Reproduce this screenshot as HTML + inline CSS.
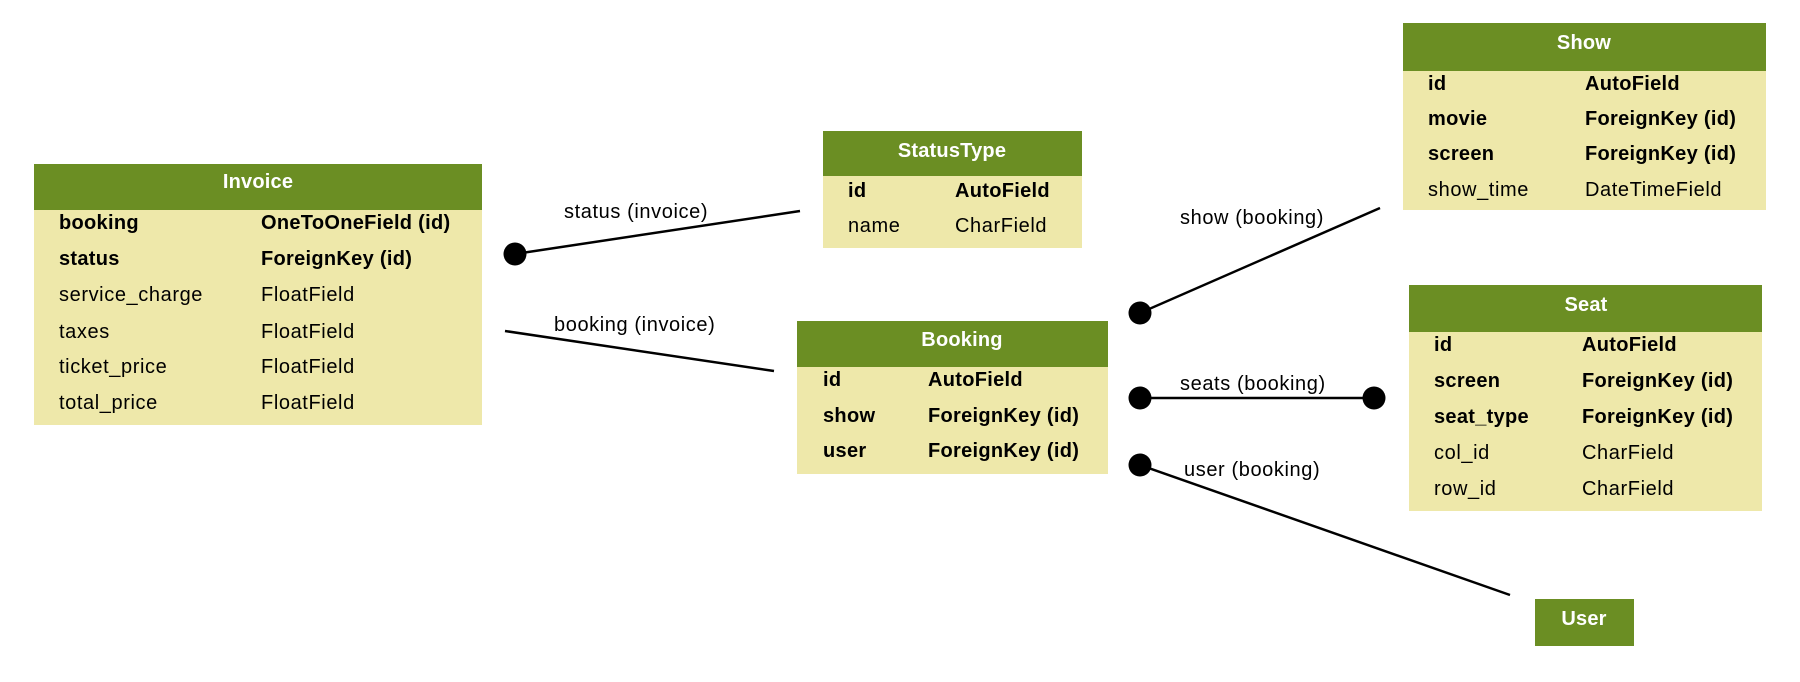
<!DOCTYPE html>
<html><head><meta charset="utf-8"><style>
html,body{margin:0;padding:0;background:#fff;}
svg{display:block;}
text{font-family:"Liberation Sans",sans-serif;font-size:20px;letter-spacing:0.6px;fill:#000;}
.b{font-weight:bold;letter-spacing:0.3px;}
.h{font-weight:bold;fill:#fff;font-size:20px;letter-spacing:0.2px;}
</style></head><body>
<svg width="1800" height="682" viewBox="0 0 1800 682" xmlns="http://www.w3.org/2000/svg">
<!-- Invoice -->
<rect x="34" y="164" width="448" height="261" fill="#EEE8AA"/>
<rect x="34" y="164" width="448" height="46" fill="#6B8E23"/>
<text class="h" x="258" y="182" text-anchor="middle" dominant-baseline="central">Invoice</text>
<g dominant-baseline="central">
<text class="b" x="59" y="223">booking</text><text class="b" x="261" y="223">OneToOneField (id)</text>
<text class="b" x="59" y="259">status</text><text class="b" x="261" y="259">ForeignKey (id)</text>
<text x="59" y="295">service_charge</text><text x="261" y="295">FloatField</text>
<text x="59" y="332">taxes</text><text x="261" y="332">FloatField</text>
<text x="59" y="367">ticket_price</text><text x="261" y="367">FloatField</text>
<text x="59" y="403">total_price</text><text x="261" y="403">FloatField</text>
</g>
<!-- StatusType -->
<rect x="823" y="131" width="259" height="117" fill="#EEE8AA"/>
<rect x="823" y="131" width="259" height="45" fill="#6B8E23"/>
<text class="h" x="952" y="151" text-anchor="middle" dominant-baseline="central">StatusType</text>
<g dominant-baseline="central">
<text class="b" x="848" y="191">id</text><text class="b" x="955" y="191">AutoField</text>
<text x="848" y="226">name</text><text x="955" y="226">CharField</text>
</g>
<!-- Booking -->
<rect x="797" y="321" width="311" height="153" fill="#EEE8AA"/>
<rect x="797" y="321" width="311" height="46" fill="#6B8E23"/>
<text class="h" x="962" y="340" text-anchor="middle" dominant-baseline="central">Booking</text>
<g dominant-baseline="central">
<text class="b" x="823" y="380">id</text><text class="b" x="928" y="380">AutoField</text>
<text class="b" x="823" y="416">show</text><text class="b" x="928" y="416">ForeignKey (id)</text>
<text class="b" x="823" y="451">user</text><text class="b" x="928" y="451">ForeignKey (id)</text>
</g>
<!-- Show -->
<rect x="1403" y="23" width="363" height="187" fill="#EEE8AA"/>
<rect x="1403" y="23" width="363" height="48" fill="#6B8E23"/>
<text class="h" x="1584" y="43" text-anchor="middle" dominant-baseline="central">Show</text>
<g dominant-baseline="central">
<text class="b" x="1428" y="84">id</text><text class="b" x="1585" y="84">AutoField</text>
<text class="b" x="1428" y="119">movie</text><text class="b" x="1585" y="119">ForeignKey (id)</text>
<text class="b" x="1428" y="154">screen</text><text class="b" x="1585" y="154">ForeignKey (id)</text>
<text x="1428" y="190">show_time</text><text x="1585" y="190">DateTimeField</text>
</g>
<!-- Seat -->
<rect x="1409" y="285" width="353" height="226" fill="#EEE8AA"/>
<rect x="1409" y="285" width="353" height="47" fill="#6B8E23"/>
<text class="h" x="1586" y="305" text-anchor="middle" dominant-baseline="central">Seat</text>
<g dominant-baseline="central">
<text class="b" x="1434" y="345">id</text><text class="b" x="1582" y="345">AutoField</text>
<text class="b" x="1434" y="381">screen</text><text class="b" x="1582" y="381">ForeignKey (id)</text>
<text class="b" x="1434" y="417">seat_type</text><text class="b" x="1582" y="417">ForeignKey (id)</text>
<text x="1434" y="453">col_id</text><text x="1582" y="453">CharField</text>
<text x="1434" y="489">row_id</text><text x="1582" y="489">CharField</text>
</g>
<!-- User -->
<rect x="1535" y="599" width="99" height="47" fill="#6B8E23"/>
<text class="h" x="1584" y="619" text-anchor="middle" dominant-baseline="central">User</text>
<!-- connectors -->
<g stroke="#000" stroke-width="2.5" fill="none">
<line x1="515" y1="254" x2="800" y2="211"/>
<line x1="505" y1="331" x2="774" y2="371"/>
<line x1="1140" y1="313" x2="1380" y2="208"/>
<line x1="1140" y1="398" x2="1374" y2="398"/>
<line x1="1140" y1="465" x2="1510" y2="595"/>
</g>
<g fill="#000">
<circle cx="515" cy="254" r="11.5"/>
<circle cx="1140" cy="313" r="11.5"/>
<circle cx="1140" cy="398" r="11.5"/>
<circle cx="1374" cy="398" r="11.5"/>
<circle cx="1140" cy="465" r="11.5"/>
</g>
<g dominant-baseline="central">
<text x="564" y="212">status (invoice)</text>
<text x="554" y="325">booking (invoice)</text>
<text x="1180" y="218">show (booking)</text>
<text x="1180" y="384">seats (booking)</text>
<text x="1184" y="470">user (booking)</text>
</g>
</svg>
</body></html>
